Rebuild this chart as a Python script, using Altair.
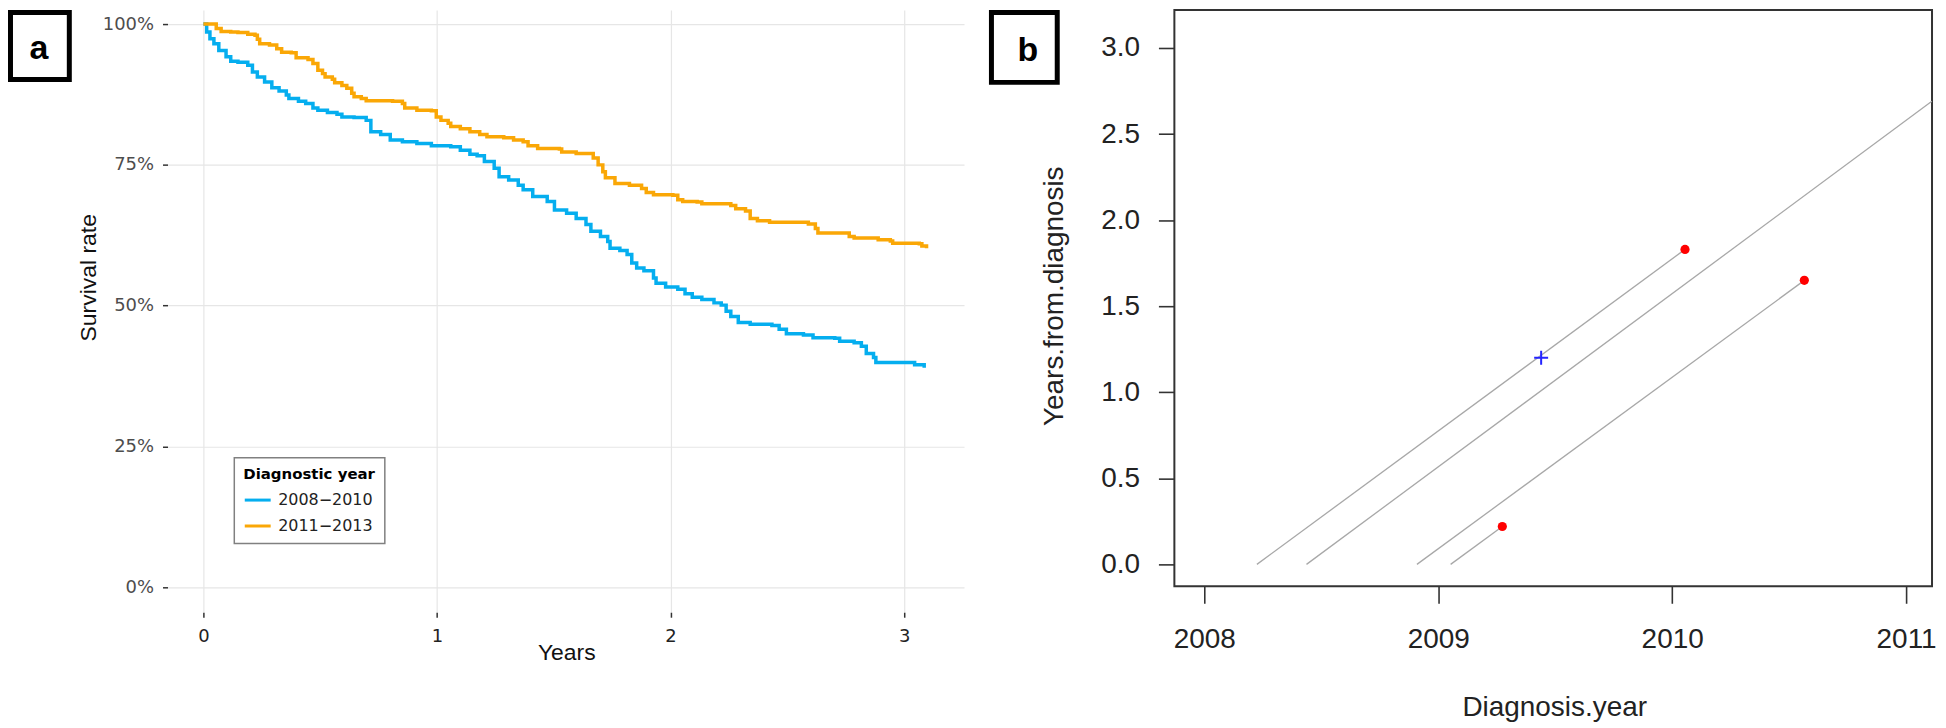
import altair as alt
import pandas as pd

# ---------------- Panel a: Kaplan-Meier curves ----------------
groups = ["2008\u22122010", "2011\u22122013"]
group_colors = ["#05aeef", "#faa706"]

blue_t = [0, 0.014, 0.028, 0.045, 0.066, 0.097, 0.117, 0.148, 0.190, 0.210, 0.231, 0.262,
          0.293, 0.324, 0.355, 0.366, 0.407, 0.438, 0.469, 0.490, 0.531, 0.572, 0.593, 0.645,
          0.697, 0.717, 0.759, 0.800, 0.852, 0.914, 0.976, 1.059, 1.100, 1.141, 1.172, 1.203,
          1.245, 1.266, 1.307, 1.348, 1.369, 1.410, 1.472, 1.503, 1.555, 1.596, 1.638, 1.659,
          1.700, 1.731, 1.741, 1.783, 1.814, 1.834, 1.855, 1.886, 1.927, 1.938, 1.979, 2.031,
          2.062, 2.093, 2.134, 2.186, 2.217, 2.238, 2.258, 2.290, 2.341, 2.434, 2.465, 2.496,
          2.569, 2.610, 2.703, 2.724, 2.786, 2.817, 2.838, 2.869, 2.879, 3.024, 3.045, 3.086]
blue_s = [1.0, 0.986, 0.974, 0.965, 0.953, 0.942, 0.934, 0.932, 0.927, 0.915, 0.906, 0.897,
          0.887, 0.881, 0.874, 0.868, 0.863, 0.859, 0.851, 0.847, 0.843, 0.840, 0.835, 0.834,
          0.829, 0.809, 0.804, 0.794, 0.791, 0.788, 0.784, 0.782, 0.776, 0.769, 0.766, 0.756,
          0.744, 0.729, 0.723, 0.714, 0.706, 0.694, 0.685, 0.670, 0.664, 0.655, 0.644, 0.632,
          0.623, 0.614, 0.602, 0.598, 0.591, 0.576, 0.567, 0.562, 0.549, 0.540, 0.533, 0.529,
          0.521, 0.515, 0.511, 0.505, 0.501, 0.490, 0.481, 0.470, 0.467, 0.465, 0.458, 0.450,
          0.448, 0.443, 0.442, 0.437, 0.434, 0.428, 0.415, 0.408, 0.399, 0.399, 0.395, 0.390]

orange_t = [0, 0.055, 0.076, 0.117, 0.148, 0.190, 0.221, 0.231, 0.241, 0.283, 0.314, 0.335,
            0.376, 0.397, 0.448, 0.469, 0.490, 0.510, 0.521, 0.552, 0.562, 0.593, 0.614, 0.635,
            0.645, 0.676, 0.697, 0.810, 0.852, 0.862, 0.914, 0.976, 0.997, 1.017, 1.048, 1.059,
            1.100, 1.141, 1.183, 1.214, 1.286, 1.328, 1.369, 1.390, 1.431, 1.524, 1.534, 1.596,
            1.669, 1.690, 1.710, 1.721, 1.762, 1.824, 1.876, 1.896, 1.927, 2.010, 2.031, 2.052,
            2.114, 2.134, 2.258, 2.279, 2.321, 2.341, 2.372, 2.424, 2.590, 2.620, 2.631, 2.765,
            2.786, 2.889, 2.941, 2.951, 3.065, 3.076, 3.096]
orange_s = [1.0, 0.992, 0.987, 0.986, 0.985, 0.982, 0.980, 0.973, 0.965, 0.963, 0.956, 0.950,
            0.949, 0.940, 0.937, 0.930, 0.918, 0.912, 0.906, 0.902, 0.896, 0.891, 0.886, 0.877,
            0.871, 0.868, 0.864, 0.863, 0.859, 0.851, 0.847, 0.846, 0.835, 0.829, 0.824, 0.818,
            0.814, 0.809, 0.804, 0.800, 0.798, 0.794, 0.791, 0.784, 0.779, 0.778, 0.773, 0.770,
            0.762, 0.750, 0.738, 0.727, 0.717, 0.714, 0.708, 0.701, 0.697, 0.696, 0.688, 0.685,
            0.684, 0.681, 0.678, 0.672, 0.668, 0.655, 0.651, 0.648, 0.645, 0.637, 0.629, 0.623,
            0.620, 0.617, 0.615, 0.611, 0.610, 0.606, 0.602]

a_x_ticks = [0, 1, 2, 3]
a_y_ticks = [0, 0.25, 0.5, 0.75, 1.0]

# ---------------- Panel b: Lexis diagram ----------------
seg_start_year = [2008.225, 2008.437, 2008.909, 2009.053]
seg_start_fu = [0.0, 0.0, 0.0, 0.0]
seg_end_year = [2010.055, 2011.110, 2010.565, 2009.274]
seg_end_fu = [1.830, 2.690, 1.650, 0.220]

death_year = [2010.055, 2010.565, 2009.274]
death_fu = [1.830, 1.650, 0.220]
censor_year = [2009.44]
censor_fu = [1.20]

b_x_ticks = [2008, 2009, 2010, 2011]
b_y_ticks = [0, 0.5, 1.0, 1.5, 2.0, 2.5, 3.0]

# ---------------- build tables ----------------
km = pd.DataFrame({
    "Years": blue_t + orange_t,
    "Survival": blue_s + orange_s,
    "Group": [groups[0]] * len(blue_t) + [groups[1]] * len(orange_t),
})
seg = pd.DataFrame({"x": seg_start_year, "y": seg_start_fu,
                    "x2": seg_end_year, "y2": seg_end_fu})
deaths = pd.DataFrame({"x": death_year, "y": death_fu})
censors = pd.DataFrame({"x": censor_year, "y": censor_fu})
lab_a = pd.DataFrame({"label": ["a"]})
lab_b = pd.DataFrame({"label": ["b"]})

# ---------------- Panel a ----------------
A_W, A_H = 799, 604
xa = alt.X("Years:Q",
           scale=alt.Scale(domain=[-0.15365, 3.2565], nice=False, zero=False),
           axis=alt.Axis(values=a_x_ticks, format="d", title="Years",
                         grid=True, gridColor="#e6e6e6", gridWidth=1.2,
                         domain=False, tickSize=5, tickColor="#333333", tickWidth=1.5,
                         labelFont="DejaVu Sans", labelFontSize=18, labelColor="#222222",
                         labelPadding=10, labelFlush=False,
                         titleFont="Liberation Sans", titleFontSize=23, titleFontWeight="normal",
                         titleColor="#111111", titleX=400, titleY=47,
                         titleBaseline="alphabetic", titleAlign="center"))
ya = alt.Y("Survival:Q",
           scale=alt.Scale(domain=[-0.04425, 1.02478], nice=False, zero=False),
           axis=alt.Axis(values=a_y_ticks, format=".0%", title="Survival rate",
                         grid=True, gridColor="#e6e6e6", gridWidth=1.2,
                         domain=False, tickSize=5, tickColor="#333333", tickWidth=1.5,
                         labelFont="DejaVu Sans", labelFontSize=18, labelColor="#4d4d4d",
                         labelPadding=9,
                         titleFont="Liberation Sans", titleFontSize=23, titleFontWeight="normal",
                         titleColor="#111111", titleAngle=270, titleX=-72, titleY=268,
                         titleBaseline="alphabetic", titleAlign="center"))
color_a = alt.Color("Group:N",
                    scale=alt.Scale(domain=groups, range=group_colors),
                    legend=alt.Legend(title="Diagnostic year", orient="none",
                                      legendX=67, legendY=449,
                                      titleFont="DejaVu Sans", titleFontSize=15,
                                      titleFontWeight="bold", titleColor="#000000",
                                      titlePadding=4,
                                      labelFont="DejaVu Sans", labelFontSize=16,
                                      labelColor="#222222", labelOffset=6,
                                      symbolType="stroke", symbolSize=676,
                                      symbolStrokeWidth=3, rowPadding=3,
                                      padding=9, strokeColor="#808080",
                                      fillColor="#ffffff"))

curves = alt.Chart(km).mark_line(interpolate="step-after", strokeWidth=3.5).encode(
    x=xa, y=ya, color=color_a)

box_a = alt.Chart(lab_a).mark_rect(fill="#ffffff", stroke="#000000", strokeWidth=5).encode(
    x=alt.value(-157.5), x2=alt.value(-98.5), y=alt.value(2.5), y2=alt.value(69.5))
text_a = alt.Chart(lab_a).mark_text(font="Liberation Sans", fontSize=34, fontWeight="bold",
                                    align="center", baseline="alphabetic",
                                    color="#000000").encode(
    text="label:N", x=alt.value(-129), y=alt.value(49))

panel_a = alt.layer(curves, box_a, text_a).properties(width=A_W, height=A_H)

# ---------------- Panel b ----------------
B_W, B_H = 760, 578
xb_scale = alt.Scale(domain=[2007.8722, 2011.1108], nice=False, zero=False)
yb_scale = alt.Scale(domain=[-0.1274, 3.2200], nice=False, zero=False)
xb = alt.X("x:Q", scale=xb_scale,
           axis=alt.Axis(values=b_x_ticks, format="d", title="Diagnosis.year",
                         grid=False, domain=False, tickSize=17, tickColor="#333333",
                         tickWidth=1.6, labelFont="Liberation Sans", labelFontSize=28,
                         labelColor="#222222", labelPadding=22, labelFlush=False,
                         labelOverlap=False,
                         titleFont="Liberation Sans", titleFontSize=28,
                         titleFontWeight="normal", titleColor="#222222",
                         titleX=381, titleY=130, titleBaseline="alphabetic",
                         titleAlign="center"))
yb = alt.Y("y:Q", scale=yb_scale,
           axis=alt.Axis(values=b_y_ticks, format=".1f", title="Years.from.diagnosis",
                         grid=False, domain=False, tickSize=16, tickColor="#333333",
                         tickWidth=1.6, labelFont="Liberation Sans", labelFontSize=28,
                         labelColor="#222222", labelPadding=19, labelOverlap=False,
                         titleFont="Liberation Sans", titleFontSize=28,
                         titleFontWeight="normal", titleColor="#222222",
                         titleAngle=270, titleX=-112.5, titleY=286.5,
                         titleBaseline="alphabetic", titleAlign="center"))

lines_b = alt.Chart(seg).mark_rule(color="#a8a8a8", strokeWidth=1.3).encode(
    x=xb, y=yb, x2="x2:Q", y2="y2:Q")
dots_b = alt.Chart(deaths).mark_circle(size=85, color="#ff0000", opacity=1).encode(
    x="x:Q", y="y:Q")
cross_b = alt.Chart(censors).mark_point(shape="M-1,0L1,0M0,-1L0,1", size=196, filled=False,
                                        color="#2424ff", strokeWidth=2, opacity=1).encode(
    x="x:Q", y="y:Q")

box_b = alt.Chart(lab_b).mark_rect(fill="#ffffff", stroke="#000000", strokeWidth=5).encode(
    x=alt.value(-183.5), x2=alt.value(-117.5), y=alt.value(2.5), y2=alt.value(72.5))
text_b = alt.Chart(lab_b).mark_text(font="Liberation Sans", fontSize=34, fontWeight="bold",
                                    align="center", baseline="alphabetic",
                                    color="#000000").encode(
    text="label:N", x=alt.value(-147), y=alt.value(51))

panel_b = alt.layer(lines_b, dots_b, cross_b, box_b, text_b).properties(
    width=B_W, height=B_H,
    view=alt.ViewBackground(stroke="#333333", strokeWidth=2))

chart = alt.hconcat(panel_a, panel_b, spacing=24).properties(
    padding=0, background="#ffffff"
).configure_view(strokeWidth=0).configure_legend(strokeWidth=1.5)

chart.save("out.html", embed_options={"renderer": "svg", "actions": False})
